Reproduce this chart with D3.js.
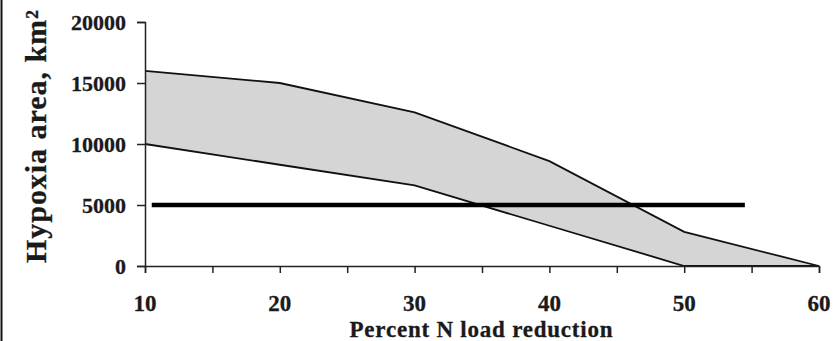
<!DOCTYPE html>
<html>
<head>
<meta charset="utf-8">
<script src="https://cdn.jsdelivr.net/npm/d3@7"></script>
<style>
  body { margin: 0; background: #fff; }
  svg text { font-family: "Liberation Serif", "Times New Roman", serif; font-weight: bold; fill: #1a1a1a; stroke: #1a1a1a; stroke-width: 0.3px; }
</style>
</head>
<body>
<svg width="835" height="341"></svg>
<script>
// Data
const reduction = [10, 20, 30, 40, 50, 60]
const upperArea = [16000, 15000, 12600, 8600, 2800, 0]
const lowerArea = [10000, 8300, 6600, 3300, 0, 0]
const goalX = [10.5, 54.5]
const goalY = [5000, 5000]
const xTicks = [10, 20, 30, 40, 50, 60]
const yTicks = [0, 5000, 10000, 15000, 20000]

// Set up
const svg = d3.select('svg')

const x = d3.scaleLinear().domain([10, 60]).range([145, 819])
const y = d3.scaleLinear().domain([0, 20000]).range([266, 22])

// frame line on the left edge
svg.append('line')
    .attr('x1', 1.5).attr('x2', 1.5)
    .attr('y1', 0).attr('y2', 341)
    .attr('stroke', '#111')
    .attr('stroke-width', 2)

const band = reduction.map((d, i) => ({x: d, hi: upperArea[i], lo: lowerArea[i]}))

svg.append('path')
    .datum(band)
    .attr('d', d3.area().x(d => x(d.x)).y0(d => y(d.lo)).y1(d => y(d.hi)))
    .attr('fill', '#d5d5d5')

const line = d3.line().x(d => x(d[0])).y(d => y(d[1]))

svg.append('path')
    .attr('d', line(reduction.map((d, i) => [d, upperArea[i]])))
    .attr('fill', 'none')
    .attr('stroke', '#111')
    .attr('stroke-width', 1.8)

svg.append('path')
    .attr('d', line(reduction.map((d, i) => [d, lowerArea[i]])))
    .attr('fill', 'none')
    .attr('stroke', '#111')
    .attr('stroke-width', 1.8)

// axes
const xAxis = svg.append('g')
    .attr('transform', `translate(0,${y(0)})`)
    .call(d3.axisBottom(x).tickValues(d3.range(10, 61, 5)).tickSize(7).tickFormat(''))
xAxis.select('.domain').attr('stroke', '#222').attr('stroke-width', 1.5)
xAxis.selectAll('.tick line').attr('stroke', '#222').attr('stroke-width', 1.5)

svg.selectAll('.xlab')
    .data(xTicks)
    .join('text')
    .attr('class', 'xlab')
    .attr('x', d => x(d))
    .attr('y', 311)
    .attr('text-anchor', 'middle')
    .style('font-size', '23px')
    .text(d => d)

const yAxis = svg.append('g')
    .attr('transform', `translate(${x(10)},0)`)
    .call(d3.axisLeft(y).tickValues(yTicks).tickSize(8).tickFormat(''))
yAxis.select('.domain').attr('stroke', '#222').attr('stroke-width', 1.5)
yAxis.selectAll('.tick line').attr('stroke', '#222').attr('stroke-width', 1.5)

svg.selectAll('.ylab')
    .data(yTicks)
    .join('text')
    .attr('class', 'ylab')
    .attr('x', 126)
    .attr('y', d => y(d) + 7.5)
    .attr('text-anchor', 'end')
    .style('font-size', '22px')
    .text(d => d)

// 5000 goal line
svg.append('path')
    .attr('d', line(goalX.map((d, i) => [d, goalY[i]])))
    .attr('stroke', '#000')
    .attr('stroke-width', 4.5)

// titles
svg.append('text')
    .attr('x', 481)
    .attr('y', 337)
    .attr('text-anchor', 'middle')
    .attr('textLength', 263)
    .style('font-size', '23px')
    .text('Percent N load reduction')

svg.append('text')
    .attr('transform', 'translate(46,136.5) rotate(-90)')
    .attr('text-anchor', 'middle')
    .attr('textLength', 253)
    .style('font-size', '30px')
    .text('Hypoxia area, km²')
</script>
</body>
</html>
